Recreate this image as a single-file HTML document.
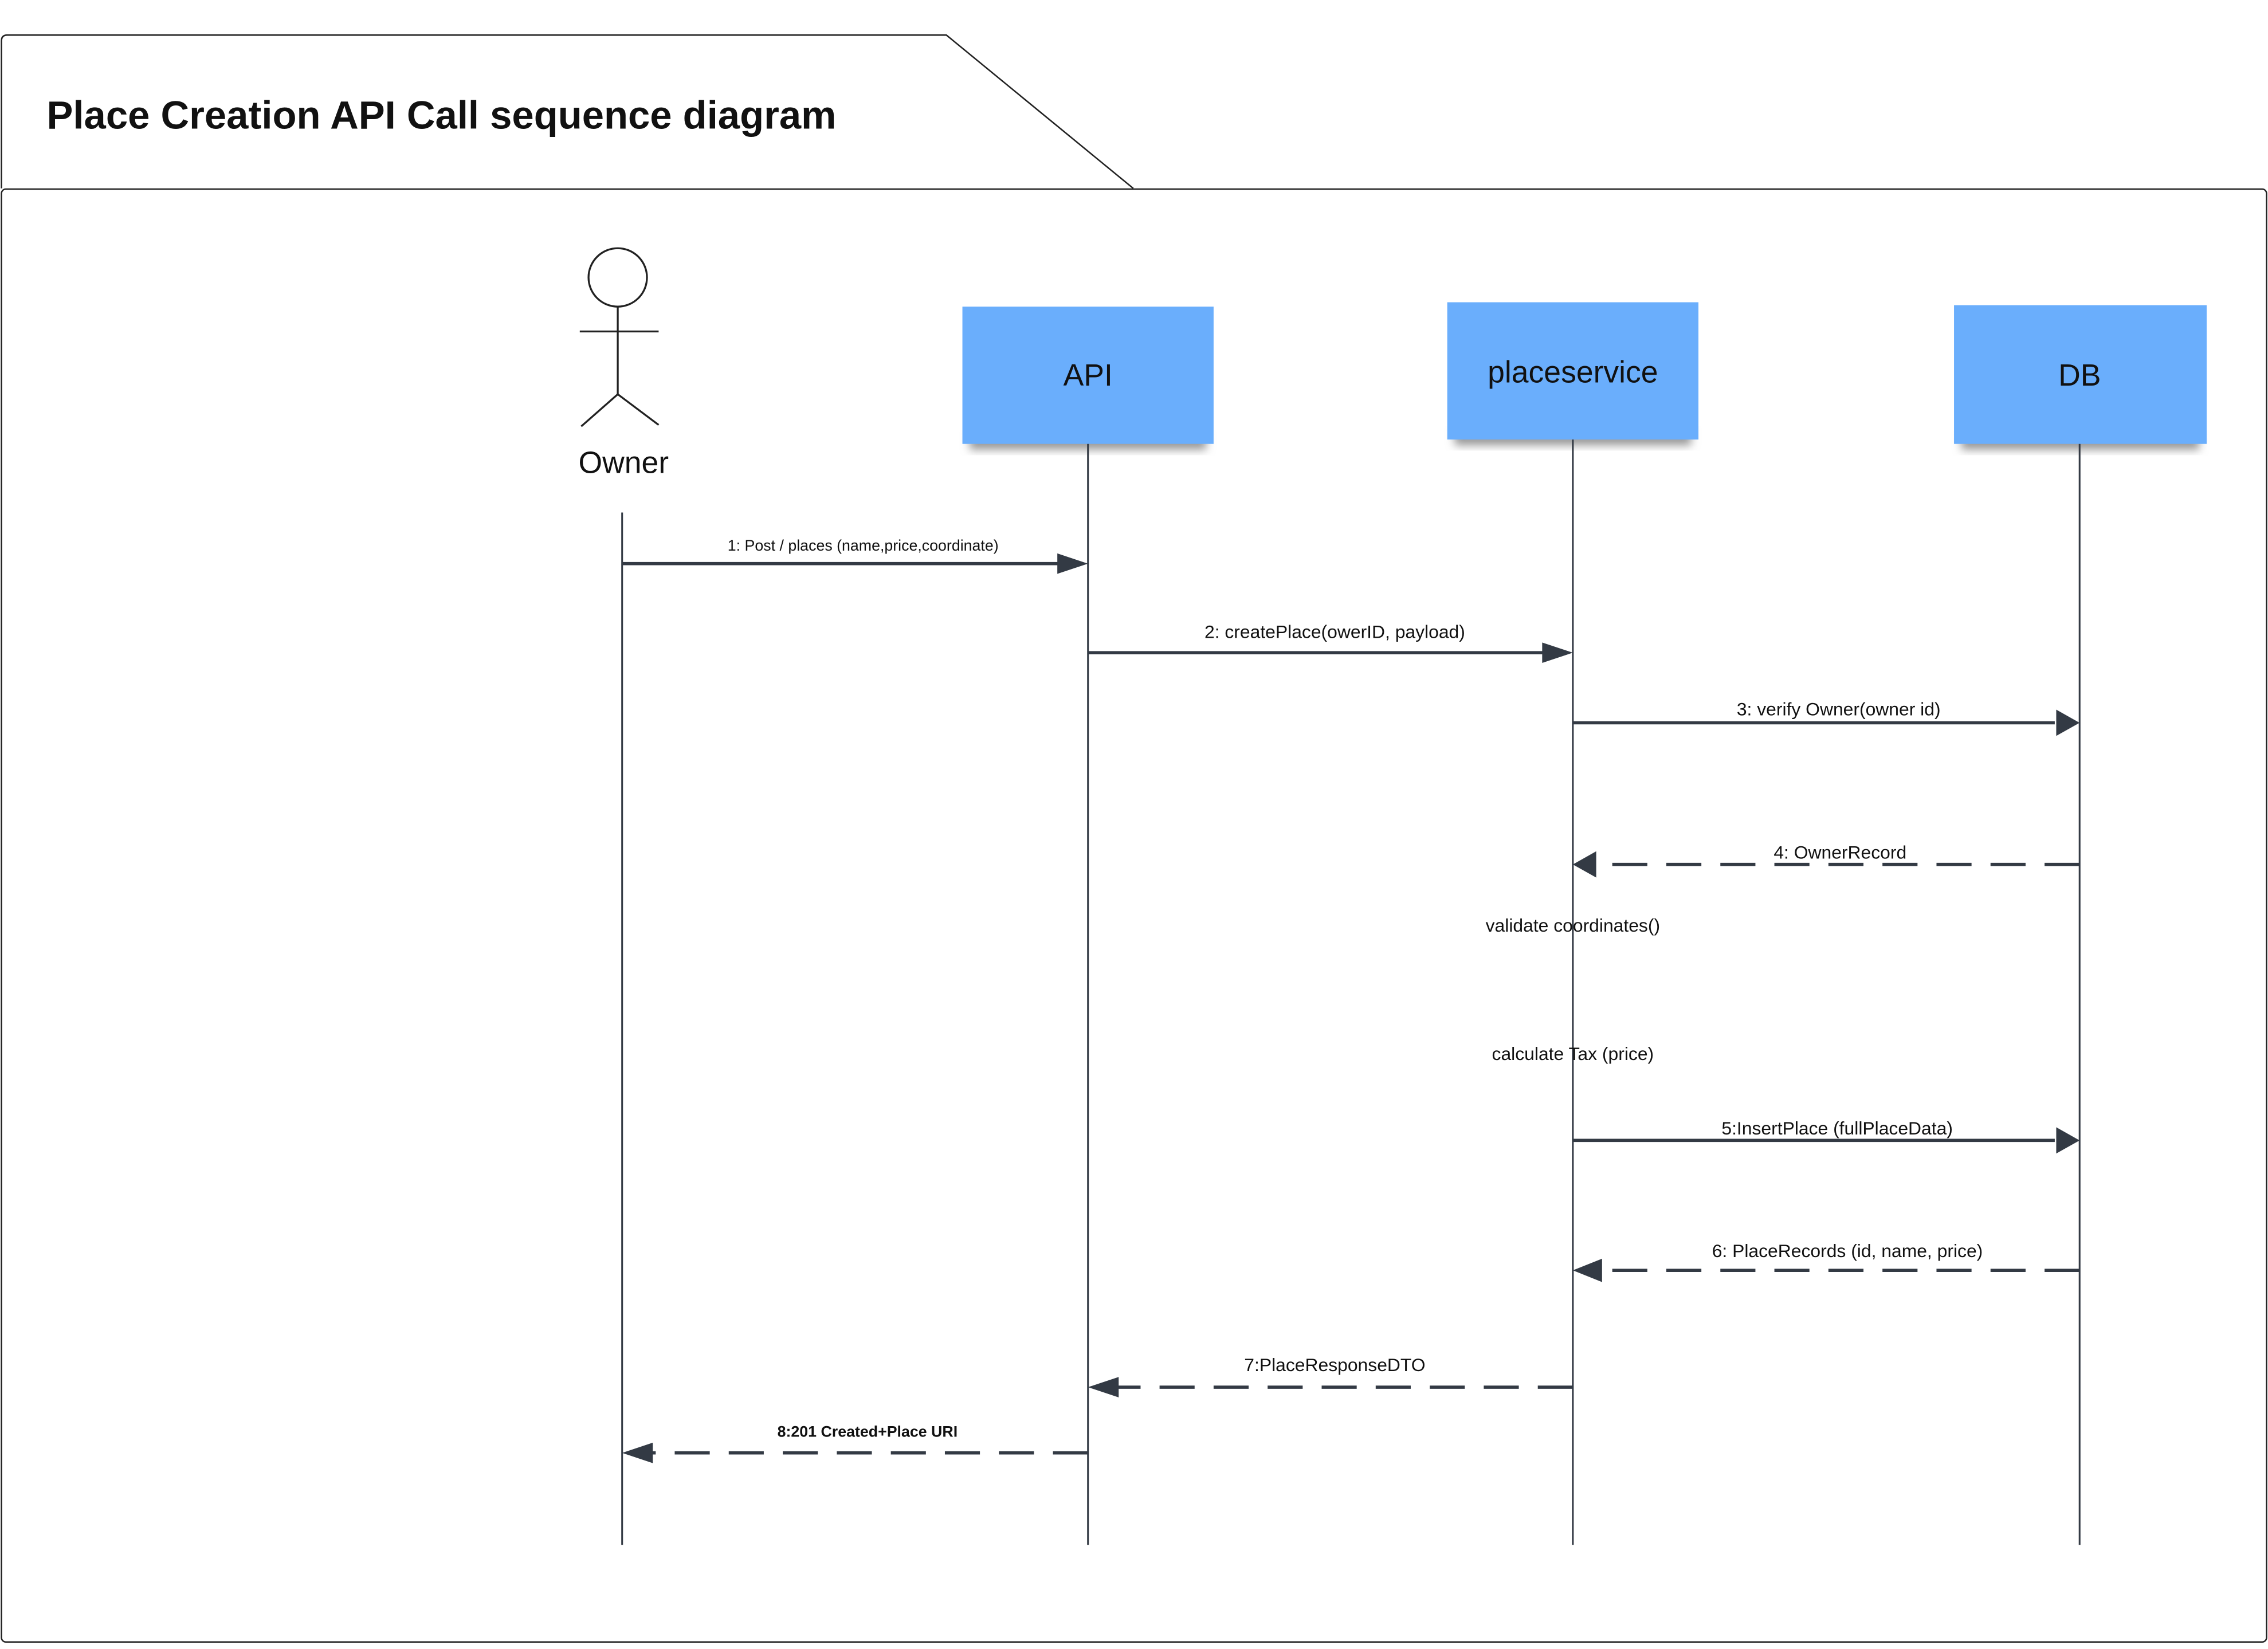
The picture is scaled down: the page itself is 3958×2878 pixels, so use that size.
<!DOCTYPE html>
<html><head><meta charset="utf-8"><style>
html,body{margin:0;padding:0;background:#fff;}
svg{display:block;}
text{font-family:"Liberation Sans",sans-serif;fill:#111;}
</style></head><body>
<svg width="3958" height="2878" viewBox="0 0 1553 1129.3" preserveAspectRatio="none" xmlns="http://www.w3.org/2000/svg">
<defs>
<filter id="sh" x="-10%" y="-10%" width="120%" height="140%"><feGaussianBlur stdDeviation="3"/></filter>
</defs>
<!-- frame -->
<path d="M1,129 L1,28 Q1,24 5,24 L648,24 L776,129" fill="none" stroke="#222" stroke-width="1"/>
<rect x="1" y="129.5" width="1551" height="995" rx="3" fill="none" stroke="#222" stroke-width="1"/>
<text x="32" y="88" font-size="27" font-weight="bold">Place Creation API Call sequence diagram</text>
<!-- actor -->
<circle cx="423" cy="190" r="20" fill="none" stroke="#222" stroke-width="1.3"/>
<line x1="423" y1="210" x2="423" y2="270" stroke="#222" stroke-width="1.3"/>
<line x1="397" y1="227" x2="451" y2="227" stroke="#222" stroke-width="1.3"/>
<line x1="423" y1="270" x2="398" y2="292" stroke="#222" stroke-width="1.3"/>
<line x1="423" y1="270" x2="451" y2="291" stroke="#222" stroke-width="1.3"/>
<text x="427" y="324" font-size="21" text-anchor="middle">Owner</text>
<!-- shadows -->
<rect x="664" y="296" width="162" height="12" fill="#999" filter="url(#sh)"/>
<rect x="996" y="293" width="162" height="12" fill="#999" filter="url(#sh)"/>
<rect x="1343" y="296" width="163" height="12" fill="#999" filter="url(#sh)"/>
<!-- boxes -->
<rect x="659" y="210" width="172" height="94" fill="#6aaefc"/>
<rect x="991" y="207" width="172" height="94" fill="#6aaefc"/>
<rect x="1338" y="209" width="173" height="95" fill="#6aaefc"/>
<text x="745" y="264" font-size="21" text-anchor="middle">API</text>
<text x="1077" y="262" font-size="21" text-anchor="middle">placeservice</text>
<text x="1424" y="264" font-size="21" text-anchor="middle">DB</text>
<!-- lifelines -->
<g stroke="#333a44" stroke-width="1.2">
<line x1="426" y1="351" x2="426" y2="1058"/>
<line x1="745" y1="304" x2="745" y2="1058"/>
<line x1="1077" y1="301" x2="1077" y2="1058"/>
<line x1="1424" y1="304" x2="1424" y2="1058"/>
</g>
<!-- messages -->
<g stroke="#333a44" stroke-width="2.2" fill="none">
<line x1="426" y1="386" x2="728" y2="386"/>
<line x1="745" y1="447" x2="1060" y2="447"/>
<line x1="1077" y1="495" x2="1407" y2="495"/>
<line x1="1424" y1="592" x2="1094" y2="592" stroke-dasharray="24,13"/>
<line x1="1077" y1="781" x2="1407" y2="781"/>
<line x1="1424" y1="870" x2="1094" y2="870" stroke-dasharray="24,13"/>
<line x1="1077" y1="950" x2="762" y2="950" stroke-dasharray="24,13"/>
<line x1="745" y1="995" x2="443" y2="995" stroke-dasharray="24,13"/>
</g>
<g fill="#333a44">
<polygon points="745,386 724,379 724,393"/>
<polygon points="1077,447 1056,440 1056,454"/>
<polygon points="1424,495 1408,486 1408,504"/>
<polygon points="1077,592 1093,583 1093,601"/>
<polygon points="1424,781 1408,772 1408,790"/>
<polygon points="1077,870 1097,862 1097,878"/>
<polygon points="745,950 766,943 766,957"/>
<polygon points="426,995 447,988 447,1002"/>
</g>
<g font-size="12.5" text-anchor="middle">
<text x="591" y="377" font-size="10.5">1: Post / places  (name,price,coordinate)</text>
<text x="914" y="437">2: createPlace(owerID, payload)</text>
<text x="1259" y="490">3: verify Owner(owner id)</text>
<text x="1260" y="588">4: OwnerRecord</text>
<text x="1077" y="638" fill="#333">validate coordinates()</text>
<text x="1077" y="726">calculate Tax (price)</text>
<text x="1258" y="777">5:InsertPlace (fullPlaceData)</text>
<text x="1265" y="861">6: PlaceRecords (id, name, price)</text>
<text x="914" y="939">7:PlaceResponseDTO</text>
<text x="594" y="984" font-size="10.5" font-weight="bold" fill="#333">8:201 Created+Place URI</text>
</g>
</svg>
</body></html>
